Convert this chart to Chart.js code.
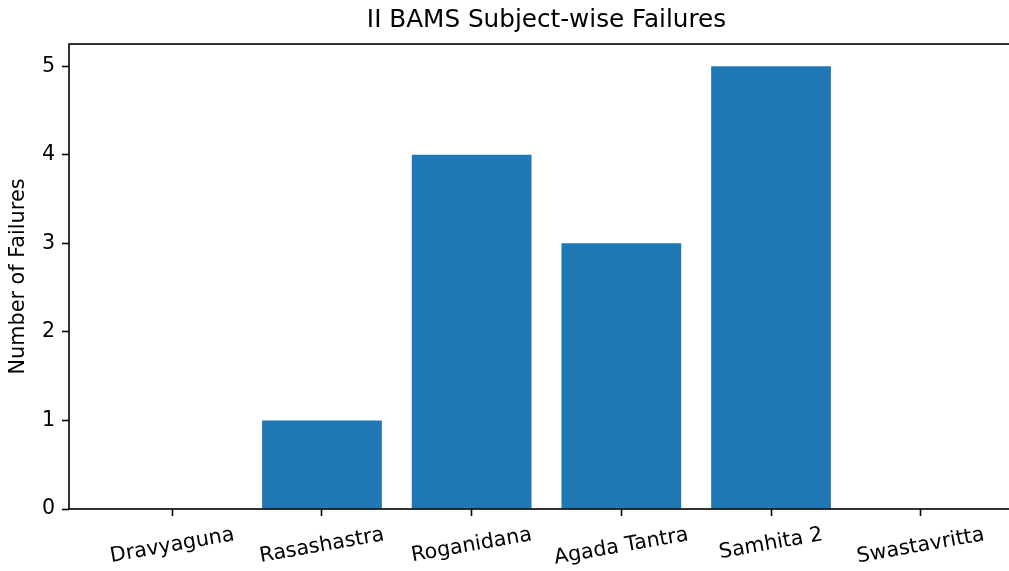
<!DOCTYPE html>
<html>
<head>
<meta charset="utf-8">
<script src="https://cdn.jsdelivr.net/npm/chart.js@4.4.2/dist/chart.umd.min.js"></script>
<style>
  html, body { margin: 0; padding: 0; overflow: hidden; background: #fff; }
  #wrap { width: 1024px; height: 571px; }
</style>
</head>
<body>
<div id="wrap"><canvas id="failuresChart"></canvas></div>
<script>
const subjects = ['Dravyaguna', 'Rasashastra', 'Roganidana', 'Agada Tantra', 'Samhita 2', 'Swastavritta'];
const failures = [0, 1, 4, 3, 5, 0];
const yTicks = [0, 1, 2, 3, 4, 5];

const FONT = '"DejaVu Sans", sans-serif';
const INK = '#000';
const LABEL_SIZE = 20.6;

// frame + rotated category labels (centred on the tick, like matplotlib)
const frameAndLabels = {
  id: 'frameAndLabels',
  afterDraw(chart) {
    const { ctx, chartArea: a, scales: { x } } = chart;
    ctx.save();
    ctx.strokeStyle = INK;
    ctx.lineWidth = 1.6;
    ctx.strokeRect(a.left, a.top, a.right - a.left, a.bottom - a.top);

    ctx.font = `${LABEL_SIZE}px ${FONT}`;
    ctx.fillStyle = INK;
    ctx.textAlign = 'center';
    ctx.textBaseline = 'middle';
    const ang = 10 * Math.PI / 180;
    subjects.forEach((s, i) => {
      const w = ctx.measureText(s).width;
      const h = LABEL_SIZE * 1.164;
      const cx = x.getPixelForValue(i);
      const cy = a.bottom + 14 + (w * Math.sin(ang) + h * Math.cos(ang)) / 2;
      ctx.save();
      ctx.translate(cx, cy);
      ctx.rotate(-ang);
      ctx.fillText(s, 0, 0);
      ctx.restore();
    });
    ctx.restore();
  }
};

new Chart(document.getElementById('failuresChart'), {
  type: 'bar',
  data: {
    datasets: [{
      data: subjects.map((s, i) => ({ x: i, y: failures[i] })),
      backgroundColor: '#1f77b4',
      borderWidth: 0,
      barPercentage: 0.8,
      categoryPercentage: 1.0
    }]
  },
  options: {
    responsive: true,
    maintainAspectRatio: false,
    animation: false,
    layout: { padding: 0 },
    plugins: {
      legend: { display: false },
      tooltip: { enabled: false },
      title: {
        display: true,
        text: 'II BAMS Subject-wise Failures',
        fullSize: false,
        color: INK,
        font: { family: FONT, size: 24.7, weight: 'normal', lineHeight: 1.2 },
        padding: { top: 6.2, bottom: 8.2 }
      }
    },
    scales: {
      x: {
        type: 'linear',
        min: -0.69,
        max: 5.69,
        offset: false,
        afterBuildTicks: scale => {
          scale.ticks = subjects.map((s, i) => ({ value: i }));
        },
        afterFit: scale => { scale.height = 62; },
        ticks: { display: false },
        grid: {
          offset: false,
          drawOnChartArea: false,
          drawTicks: true,
          tickLength: 7,
          tickWidth: 1.6,
          tickColor: INK
        },
        border: { display: false }
      },
      y: {
        min: 0,
        max: 5.25,
        afterBuildTicks: scale => {
          scale.ticks = yTicks.map(v => ({ value: v }));
        },
        afterFit: scale => { scale.width = 69; },
        ticks: {
          color: INK,
          padding: 7,
          font: { family: FONT, size: LABEL_SIZE }
        },
        grid: {
          drawOnChartArea: false,
          drawTicks: true,
          tickLength: 7,
          tickWidth: 1.6,
          tickColor: INK
        },
        border: { display: false },
        title: {
          display: true,
          text: 'Number of Failures',
          color: INK,
          font: { family: FONT, size: 20.8, lineHeight: 1.2 },
          padding: { top: 6.5, bottom: 0 }
        }
      }
    }
  },
  plugins: [frameAndLabels]
});
</script>
</body>
</html>
